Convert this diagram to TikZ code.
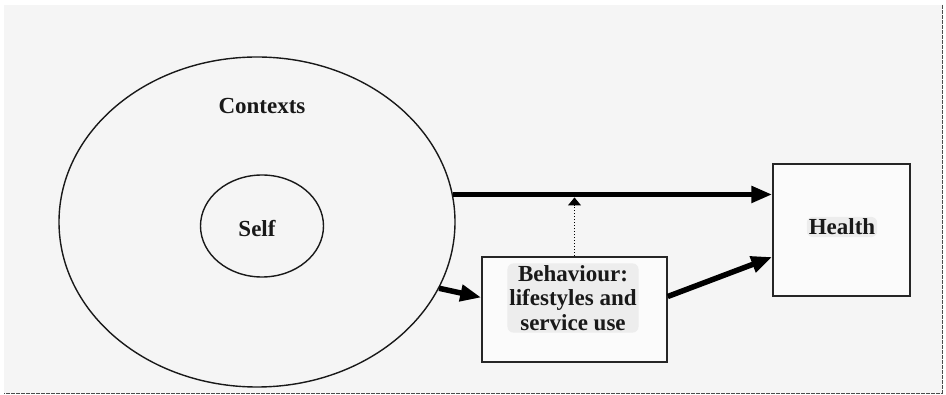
\documentclass[tikz,border=0pt]{standalone}
\usepackage{fontspec}
\setmainfont{Liberation Serif}
\usetikzlibrary{arrows.meta,shapes.geometric,calc}
\definecolor{paper}{HTML}{F5F5F5}
\definecolor{hilite}{HTML}{EDEDED}
\begin{document}
\begin{tikzpicture}[x=1pt,y=-1pt,
  lbl/.style={font=\fontsize{23}{24.5}\selectfont\bfseries, text=black!90},
  shade/.style={fill=hilite, rounded corners=6pt, inner sep=2pt},
  outline/.style={draw=black!90, line width=1.4pt},
  boxnode/.style={draw=black!85, line width=1.5pt, fill=white!60!paper},
  thick arrow/.style={line width=5.5pt, -{Triangle[length=21pt,width=16pt]}},
  thin arrow/.style={dotted, line width=1pt, -{Triangle[length=8pt,width=13pt]}, shorten >=3pt}
]
  % page and framed panel
  \useasboundingbox (0,0) rectangle (946,395);
  \fill[white] (0,0) rectangle (946,395);
  \fill[paper] (4,5) rectangle (942,393);
  \draw[line width=0.6pt, black!70, dash pattern=on 4pt off 1pt]
    (942,5) -- (942,393) -- (4,393);

  % nested contexts
  \node[ellipse, outline, minimum width=396pt, minimum height=330pt, inner sep=0pt] (ctx) at (257,222) {};
  \node[ellipse, outline, minimum width=123pt, minimum height=102pt, inner sep=0pt] (self) at (262,226) {};
  \node[lbl] (ctxlabel) at (262,106) {Contexts};
  \node[lbl] (selflabel) at (257,229) {Self};

  % boxes
  \node[boxnode, minimum width=185pt, minimum height=105pt, inner sep=0pt] (beh) at (574.5,309.5) {};
  \node[lbl, shade, align=center] (behlabel) at (573,298) {Behaviour:\\lifestyles and\\service use};
  \node[boxnode, minimum width=137pt, minimum height=132pt, inner sep=0pt] (hlth) at (841.5,230) {};
  \node[lbl, shade] (hlthlabel) at (842,227) {Health};

  % connectors
  \coordinate (topstart) at (ctx.8.5);
  \coordinate (topend) at (topstart -| hlth.west);
  \draw[thick arrow] (topstart) -- (topend);
  \coordinate (midline) at (beh.north |- topend);
  \draw[thin arrow] (beh.north) -- (midline);
  \draw[thick arrow] (ctx.-20) -- ([yshift=12pt]beh.west);
  \draw[thick arrow] ([yshift=13pt]beh.east) -- ([yshift=-27pt]hlth.west);
\end{tikzpicture}
\end{document}
